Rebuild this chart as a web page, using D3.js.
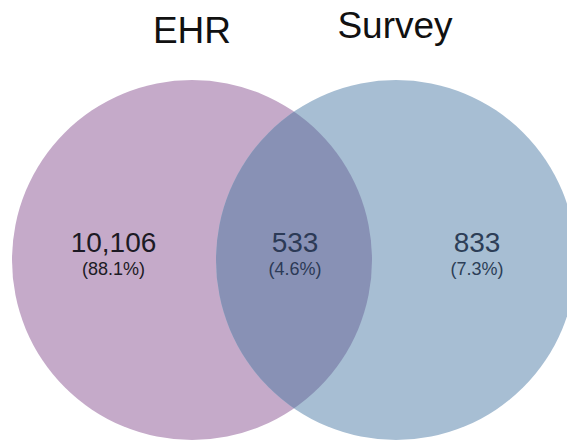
<!DOCTYPE html>
<html>
<head>
<meta charset="utf-8">
<script src="https://cdn.jsdelivr.net/npm/d3@7/dist/d3.min.js"></script>
<style>
  html, body { margin: 0; padding: 0; background: #ffffff; }
  svg { display: block; }
  text { font-family: "Liberation Sans", Arial, sans-serif; }
</style>
</head>
<body>
<script>
// ---- data ----
const setNames = ["EHR", "Survey"];
const regionLabels = ["EHR only", "Both", "Survey only"];
const regionCounts = [10106, 533, 833];
const regionPercents = ["88.1%", "4.6%", "7.3%"];

const W = 567, H = 441;
const svg = d3.select("body").append("svg").attr("width", W).attr("height", H);

// venn layout in abstract units: two equal circles, centres 0 and 1.1333 apart, radius 1
const x = d3.scaleLinear().domain([0, 1.1333]).range([192, 396]);
const y = d3.scaleLinear().domain([0, 1]).range([260, 80]);
const r = x(1) - x(0); // radius in pixels

const circles = [
  { name: setNames[0], cx: 0, cy: 0, fill: "#c5aac9" },
  { name: setNames[1], cx: 1.1333, cy: 0, fill: "#a7bed3" }
];

const defs = svg.append("defs");
defs.append("clipPath").attr("id", "clipA")
  .append("circle")
  .attr("cx", x(circles[0].cx)).attr("cy", y(circles[0].cy)).attr("r", r);

svg.selectAll("circle.set").data(circles).join("circle")
  .attr("class", "set")
  .attr("cx", d => x(d.cx)).attr("cy", d => y(d.cy)).attr("r", r)
  .attr("fill", d => d.fill);

// intersection
svg.append("circle")
  .attr("cx", x(circles[1].cx)).attr("cy", y(circles[1].cy)).attr("r", r)
  .attr("clip-path", "url(#clipA)")
  .attr("fill", "#8891b5");

// set titles
const titlePos = [{ x: 192, y: 43 }, { x: 395, y: 38 }];
svg.selectAll("text.title").data(setNames).join("text")
  .attr("class", "title")
  .attr("x", (d, i) => titlePos[i].x).attr("y", (d, i) => titlePos[i].y)
  .attr("text-anchor", "middle")
  .attr("font-size", 37)
  .attr("fill", "#111111")
  .text(d => d);

// region labels
const regionX = [113.5, 295, 477];
const textColors = ["#1c1a24", "#2c3a56", "#2d3e57"];
const fmt = d3.format(",");
const g = svg.selectAll("g.region").data(regionCounts).join("g").attr("class", "region");
g.append("text")
  .attr("x", (d, i) => regionX[i]).attr("y", 252)
  .attr("text-anchor", "middle")
  .attr("font-size", 28)
  .attr("fill", (d, i) => textColors[i])
  .text(d => fmt(d));
g.append("text")
  .attr("x", (d, i) => regionX[i]).attr("y", 275)
  .attr("text-anchor", "middle")
  .attr("font-size", 18)
  .attr("fill", (d, i) => textColors[i])
  .text((d, i) => "(" + regionPercents[i] + ")");
</script>
</body>
</html>
